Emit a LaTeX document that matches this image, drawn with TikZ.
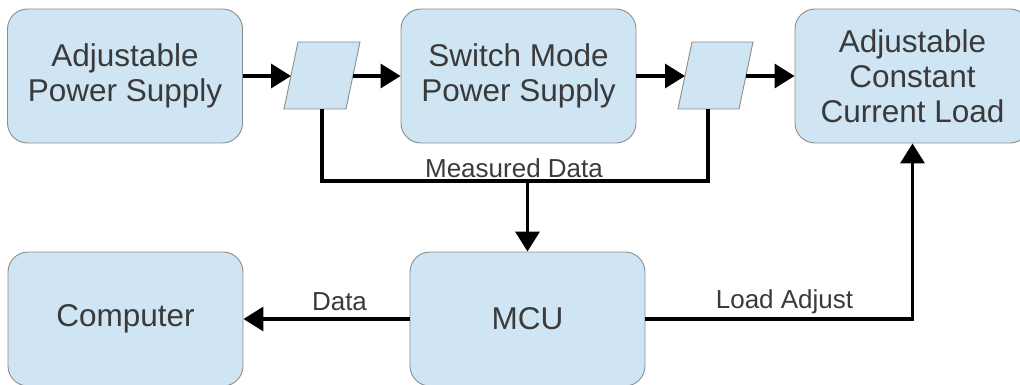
\documentclass[tikz,border=0pt]{standalone}
\usepackage{fontspec}
\setmainfont{Liberation Sans}
\usetikzlibrary{arrows.meta}
\definecolor{boxfill}{HTML}{CFE5F3}
\definecolor{boxline}{HTML}{8C8C8C}
\definecolor{inktext}{HTML}{3A3A3A}
\tikzset{
  block/.style={draw=boxline, line width=0.9pt, fill=boxfill, rounded corners=20pt,
    minimum width=235pt, minimum height=134pt, inner sep=0pt, align=center,
    text=inktext, font=\fontsize{31.5}{35}\selectfont},
  tap/.style={draw=boxline, line width=0.9pt, fill=boxfill},
  wire/.style={line width=3.5pt, black},
  flow/.style={wire, -{Triangle[length=20pt,width=24pt]}},
  tag/.style={text=inktext, font=\fontsize{26}{30}\selectfont, inner sep=0pt}
}
\begin{document}
\begin{tikzpicture}[x=1pt, y=-1pt]
  \useasboundingbox (0,0) rectangle (1020,385);

  % main blocks
  \node[block] (aps)  at (125,76)    {Adjustable\\Power Supply};
  \node[block] (smps) at (518.5,76)  {Switch Mode\\Power Supply};
  \node[block] (accl) at (912.5,76)  {Adjustable\\Constant\\Current Load};
  \node[block] (comp) at (125.5,319) {Computer};
  \node[block] (mcu)  at (527.5,319) {MCU};

  % measurement taps (parallelograms)
  \coordinate (p1a) at (284,109); \coordinate (p1b) at (346,109);
  \coordinate (p1c) at (360,42);  \coordinate (p1d) at (298,42);
  \coordinate (p2a) at (678,109); \coordinate (p2b) at (739,109);
  \coordinate (p2c) at (753,42);  \coordinate (p2d) at (692,42);
  \draw[tap] (p1a) -- (p1b) -- (p1c) -- (p1d) -- cycle;
  \draw[tap] (p2a) -- (p2b) -- (p2c) -- (p2d) -- cycle;

  % points where the wires meet the taps
  \coordinate (p1in)  at (291,76);
  \coordinate (p1out) at (353,76);
  \coordinate (p2in)  at (685,76);
  \coordinate (p2out) at (746,76);
  \coordinate (p1low) at (322,109);
  \coordinate (p2low) at (708,109);
  \coordinate (m1) at (322,181);
  \coordinate (m2) at (708,181);
  \coordinate (mj) at (527.5,181);

  % power path
  \draw[flow] (aps.east) -- (p1in);
  \draw[flow] (p1out) -- (smps.west);
  \draw[flow] (smps.east) -- (p2in);
  \draw[flow] (p2out) -- (accl.west);

  % measurement bus to the MCU
  \draw[wire, line join=miter] (p1low) -- (m1) -- (m2) -- (p2low);
  \draw[flow] (mj) -- (mcu.north);

  % MCU outputs
  \draw[flow] (mcu.west) -- (comp.east);
  \draw[flow, line join=miter] (mcu.east) -| (accl.south);

  % wire labels
  \node[tag] (lmeas) at (514,168) {Measured Data};
  \node[tag] (ldata) at (339.5,302) {Data};
  \node[tag] (lload) at (784.5,302) {Load Adjust};
\end{tikzpicture}
\end{document}
